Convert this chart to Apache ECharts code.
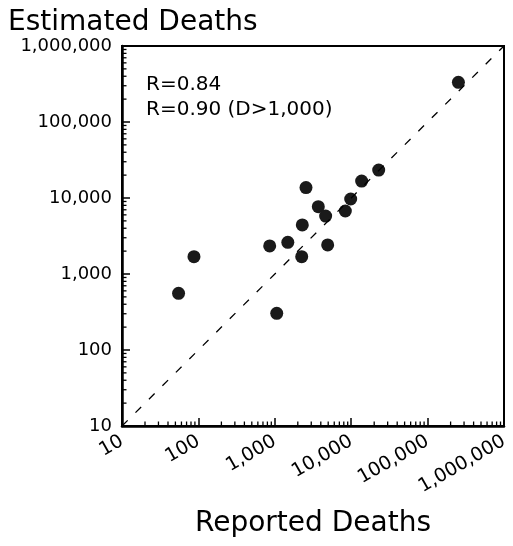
<!DOCTYPE html>
<html>
<head>
<meta charset="utf-8">
<script src="https://cdn.jsdelivr.net/npm/echarts@6/dist/echarts.min.js"></script>
<style>
  html, body { margin: 0; padding: 0; background: #fff; }
  #main { width: 513px; height: 546px; }
</style>
</head>
<body>
<div id="main"></div>
<script>
// reported vs estimated deaths
var reported  = [253000, 22900, 13700, 9850, 8380, 2560, 3710, 4630, 2290, 1480, 857, 4920, 2250, 87.5, 55, 1060];
var estimated = [333000, 23300, 16700, 9700, 6740, 13700, 7690, 5790, 4420, 2610, 2340, 2410, 1690, 1690, 557, 304];

var decades = [10, 100, 1000, 10000, 100000, 1000000];
var notes = ['R=0.84', 'R=0.90 (D>1,000)'];

var font = 'DejaVu Sans';
var lo = decades[0], hi = decades[decades.length - 1];

var points = [];
for (var i = 0; i < reported.length; i++) {
    points.push([reported[i], estimated[i]]);
}

// minor tick values 2..9 in each decade
var minorX = [], minorY = [];
for (var d = 0; d < decades.length - 1; d++) {
    for (var k = 2; k <= 9; k++) {
        minorX.push([decades[d] * k, lo]);
        minorY.push([lo, decades[d] * k]);
    }
}

function fmt(v) {
    return Math.round(v).toLocaleString('en-US');
}

function tickItem(horizontal) {
    return function (params, api) {
        var p = api.coord([api.value(0), api.value(1)]);
        var shape = horizontal
            ? { x1: p[0], y1: p[1], x2: p[0], y2: p[1] - 4.5 }
            : { x1: p[0], y1: p[1], x2: p[0] + 4.5, y2: p[1] };
        return { type: 'line', shape: shape, style: { stroke: '#000', lineWidth: 1.3 } };
    };
}

var dom = document.getElementById('main');
var myChart = echarts.init(dom);

var option = {
    backgroundColor: '#fff',
    animation: false,
    title: {
        text: 'Estimated Deaths',
        left: 3,
        top: 4,
        textStyle: { color: '#000', fontFamily: font, fontSize: 28, fontWeight: 'normal' }
    },
    grid: {
        left: 122, right: 9, top: 46, bottom: 120,
        outerBoundsMode: 'none',
        show: true, borderColor: '#000', borderWidth: 2, backgroundColor: 'transparent'
    },
    xAxis: {
        type: 'log',
        logBase: 10,
        min: lo,
        max: hi,
        position: 'bottom',
        name: 'Reported Deaths',
        nameLocation: 'middle',
        nameGap: 84,
        nameTextStyle: { color: '#000', fontFamily: font, fontSize: 28 },
        splitLine: { show: false },
        axisLine: { show: true, lineStyle: { color: '#000', width: 2.5 } },
        axisTick: { show: true, inside: true, length: 8, lineStyle: { color: '#000', width: 1.5 } },
        axisLabel: { rotate: 30, margin: 14, formatter: fmt, color: '#000', fontFamily: font, fontSize: 19 }
    },
    yAxis: {
        type: 'log',
        logBase: 10,
        min: lo,
        max: hi,
        position: 'left',
        splitLine: { show: false },
        axisLine: { show: true, lineStyle: { color: '#000', width: 2.5 } },
        axisTick: { show: true, inside: true, length: 8, lineStyle: { color: '#000', width: 1.5 } },
        axisLabel: { margin: 10, formatter: fmt, color: '#000', fontFamily: font, fontSize: 18 }
    },
    graphic: [{
        type: 'text',
        left: 146,
        top: 72,
        style: {
            text: notes.join('\n'),
            fill: '#000',
            font: '20px "DejaVu Sans"',
            lineHeight: 25
        }
    }],
    series: [
        {
            name: 'Equal',
            type: 'line',
            symbol: 'none',
            silent: true,
            lineStyle: { color: '#000', width: 1.3, type: [8, 11] },
            data: [[lo, lo], [hi, hi]]
        },
        {
            name: 'MinorX',
            type: 'custom',
            silent: true,
            clip: false,
            renderItem: tickItem(true),
            data: minorX
        },
        {
            name: 'MinorY',
            type: 'custom',
            silent: true,
            clip: false,
            renderItem: tickItem(false),
            data: minorY
        },
        {
            name: 'Events',
            type: 'scatter',
            symbol: 'circle',
            symbolSize: 13,
            itemStyle: { color: '#1a1a1a', opacity: 1 },
            data: points
        }
    ]
};

myChart.setOption(option, true);
</script>
</body>
</html>
